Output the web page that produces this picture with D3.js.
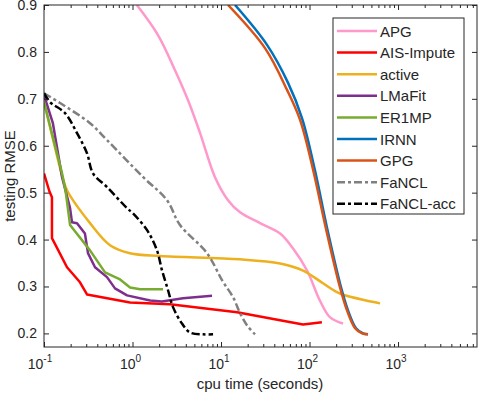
<!DOCTYPE html>
<html lang="en">
<head>
<meta charset="UTF-8">
<title>testing RMSE vs cpu time</title>
<style>
  body { margin: 0; background: #fff; }
  svg text { font-family: "Liberation Sans", Arial, sans-serif; fill: #262626; }
</style>
</head>
<body>
<svg width="479" height="394" id="svg"></svg>
<script src="https://d3js.org/d3.v7.min.js"></script>
<script>
// series names, in legend order
const names = ["APG", "AIS-Impute", "active", "LMaFit", "ER1MP", "IRNN", "GPG", "FaNCL", "FaNCL-acc"]
const colors = ["#ff99cc", "#ff0000", "#edb120", "#7e2f8e", "#77ac30", "#0072bd", "#d95319", "#808080", "#000000"]
const dashed = [false, false, false, false, false, false, false, true, true]
const smooth = [true, false, true, false, false, true, true, true, true]

// cpu time (seconds) / testing RMSE
const apgTime = [1.12, 1.94, 3.02, 4.24, 5.8, 8.55, 12.0, 16.4, 27.6, 46.5, 65.2, 93.8, 131, 171, 239]
const apgRmse = [0.9, 0.836, 0.761, 0.697, 0.627, 0.533, 0.484, 0.458, 0.435, 0.413, 0.381, 0.334, 0.270, 0.234, 0.221]

const aisTime = [0.1, 0.115, 0.123, 0.123, 0.182, 0.255, 0.306, 0.938, 2.65, 15.2, 46.5, 84.5, 138]
const aisRmse = [0.541, 0.503, 0.490, 0.403, 0.341, 0.309, 0.283, 0.266, 0.262, 0.245, 0.228, 0.219, 0.224]

const activeTime = [0.1, 0.16, 0.182, 0.331, 0.557, 0.938, 2.05, 16.4, 46.5, 84.5, 142, 221, 627]
const activeRmse = [0.695, 0.537, 0.505, 0.435, 0.388, 0.371, 0.365, 0.358, 0.349, 0.334, 0.307, 0.285, 0.264]

const lmafitTime = [0.1, 0.126, 0.16, 0.197, 0.207, 0.236, 0.29, 0.314, 0.377, 0.515, 0.634, 0.867, 1.58, 2.15, 3.72, 7.91]
const lmafitRmse = [0.708, 0.648, 0.533, 0.467, 0.437, 0.435, 0.413, 0.371, 0.341, 0.320, 0.296, 0.281, 0.270, 0.268, 0.275, 0.280]

const er1mpTime = [0.1, 0.16, 0.175, 0.197, 0.331, 0.489, 0.723, 0.938, 1.22, 2.21]
const er1mpRmse = [0.693, 0.541, 0.505, 0.431, 0.377, 0.330, 0.315, 0.298, 0.294, 0.294]

const irnnTime = [14.4, 33.1, 57.2, 82.2, 115, 158, 227, 272, 335, 403, 458]
const irnnRmse = [0.9, 0.815, 0.734, 0.659, 0.548, 0.424, 0.298, 0.249, 0.211, 0.200, 0.198]

const gpgTime = [12.0, 31.4, 55.7, 78.2, 110, 153, 221, 265, 327, 392, 458]
const gpgRmse = [0.9, 0.808, 0.719, 0.655, 0.548, 0.424, 0.298, 0.249, 0.211, 0.200, 0.198]

const fanclTime = [0.1, 0.152, 0.331, 0.515, 1.32, 2.45, 3.44, 6.95, 10.3, 13.7, 16.4, 19.7, 24.2]
const fanclRmse = [0.712, 0.691, 0.648, 0.612, 0.533, 0.484, 0.431, 0.371, 0.313, 0.277, 0.243, 0.217, 0.198]

const accTime = [0.1, 0.117, 0.172, 0.236, 0.306, 0.358, 0.515, 0.867, 1.01, 1.46, 1.89, 2.15, 2.52, 2.87, 3.62, 4.46, 6.26, 8.13]
const accRmse = [0.712, 0.693, 0.670, 0.627, 0.584, 0.541, 0.512, 0.467, 0.456, 0.420, 0.377, 0.335, 0.292, 0.256, 0.221, 0.202, 0.198, 0.198]

const yTicks = [0.2, 0.3, 0.4, 0.5, 0.6, 0.7, 0.8, 0.9]
const xTicks = [0.1, 1, 10, 100, 1000]
const xExp = ["-1", "0", "1", "2", "3"]

const times = [apgTime, aisTime, activeTime, lmafitTime, er1mpTime, irnnTime, gpgTime, fanclTime, accTime]
const rmses = [apgRmse, aisRmse, activeRmse, lmafitRmse, er1mpRmse, irnnRmse, gpgRmse, fanclRmse, accRmse]

const svg = d3.select("svg#svg")
const pad = { left: 44, right: 477, top: 5, bottom: 347 }
const ink = "#262626"

const xScale = d3.scaleLog().domain([0.1, 7800]).range([pad.left, pad.right])
const yScale = d3.scaleLinear().domain([0.171, 0.9]).range([pad.bottom, pad.top])

svg.append("clipPath").attr("id", "clip")
  .append("rect").attr("x", pad.left).attr("y", pad.top)
  .attr("width", pad.right - pad.left).attr("height", pad.bottom - pad.top)

// lines
const plot = svg.append("g").attr("clip-path", "url(#clip)")
names.forEach((n, i) => {
  const pts = times[i].map((t, j) => [t, rmses[i][j]])
  const line = d3.line().x(d => xScale(d[0])).y(d => yScale(d[1]))
    .curve(smooth[i] ? d3.curveCatmullRom.alpha(0.5) : d3.curveLinear)
  plot.append("path")
    .attr("d", line(pts))
    .attr("fill", "none")
    .attr("stroke", colors[i])
    .attr("stroke-width", 2.5)
    .attr("stroke-linejoin", "round")
    .attr("stroke-dasharray", dashed[i] ? "8,3,3,3" : null)
})

// axes box + ticks (inward, on all four sides like matlab "box on")
const ax = svg.append("g")
ax.append("g").attr("transform", `translate(0,${pad.bottom})`)
  .call(d3.axisBottom(xScale).tickValues(xTicks).tickSize(-5).tickFormat(""))
ax.append("g").attr("transform", `translate(0,${pad.top})`)
  .call(d3.axisTop(xScale).tickValues(xTicks).tickSize(-5).tickFormat(""))
ax.append("g").attr("transform", `translate(${pad.left},0)`)
  .call(d3.axisLeft(yScale).tickValues(yTicks).tickSize(-5).tickFormat(""))
ax.append("g").attr("transform", `translate(${pad.right},0)`)
  .call(d3.axisRight(yScale).tickValues(yTicks).tickSize(-5).tickFormat(""))

// minor log ticks
const minor = []
for (let e = -1; e <= 3; e++) for (let k = 2; k <= 9; k++) {
  const v = k * Math.pow(10, e)
  if (v < 7800) minor.push(v)
}
ax.append("g").attr("transform", `translate(0,${pad.bottom})`)
  .call(d3.axisBottom(xScale).tickValues(minor).tickSize(-3).tickFormat(""))
ax.append("g").attr("transform", `translate(0,${pad.top})`)
  .call(d3.axisTop(xScale).tickValues(minor).tickSize(-3).tickFormat(""))

ax.selectAll(".domain").remove()
ax.selectAll("line").attr("stroke", ink)
ax.append("rect").attr("x", pad.left).attr("y", pad.top)
  .attr("width", pad.right - pad.left).attr("height", pad.bottom - pad.top)
  .attr("fill", "none").attr("stroke", ink).attr("stroke-width", 1)

// tick labels
svg.append("g").selectAll("text").data(yTicks).join("text")
  .attr("x", pad.left - 7).attr("y", d => yScale(d) + 5)
  .attr("text-anchor", "end").attr("font-size", 14)
  .text(d => d.toFixed(1))

const xl = svg.append("g").selectAll("text").data(xTicks).join("text")
  .attr("x", (d, i) => xScale(d) - (xExp[i].length > 1 ? 4 : 2))
  .attr("y", 369).attr("text-anchor", "middle").attr("font-size", 14)
xl.append("tspan").text("10")
xl.append("tspan").attr("dy", -7).attr("font-size", 10).text((d, i) => xExp[i])

// axis titles
svg.append("text").attr("x", 260).attr("y", 389)
  .attr("text-anchor", "middle").attr("font-size", 15).text("cpu time (seconds)")
svg.append("text").attr("transform", `translate(15,${(pad.top + pad.bottom) / 2}) rotate(-90)`)
  .attr("text-anchor", "middle").attr("font-size", 15).text("testing RMSE")

// legend
const lg = svg.append("g")
lg.append("rect").attr("x", 333).attr("y", 18).attr("width", 131).attr("height", 196)
  .attr("fill", "#fff").attr("stroke", ink).attr("stroke-width", 1)
names.forEach((n, i) => {
  const yy = 31 + i * 21.6
  lg.append("line").attr("x1", 337).attr("x2", 377).attr("y1", yy).attr("y2", yy)
    .attr("stroke", colors[i]).attr("stroke-width", 2.5)
    .attr("stroke-dasharray", dashed[i] ? "8,3,3,3" : null)
  lg.append("text").attr("x", 380).attr("y", yy + 5.5).attr("font-size", 15).text(n)
})
</script>
</body>
</html>
